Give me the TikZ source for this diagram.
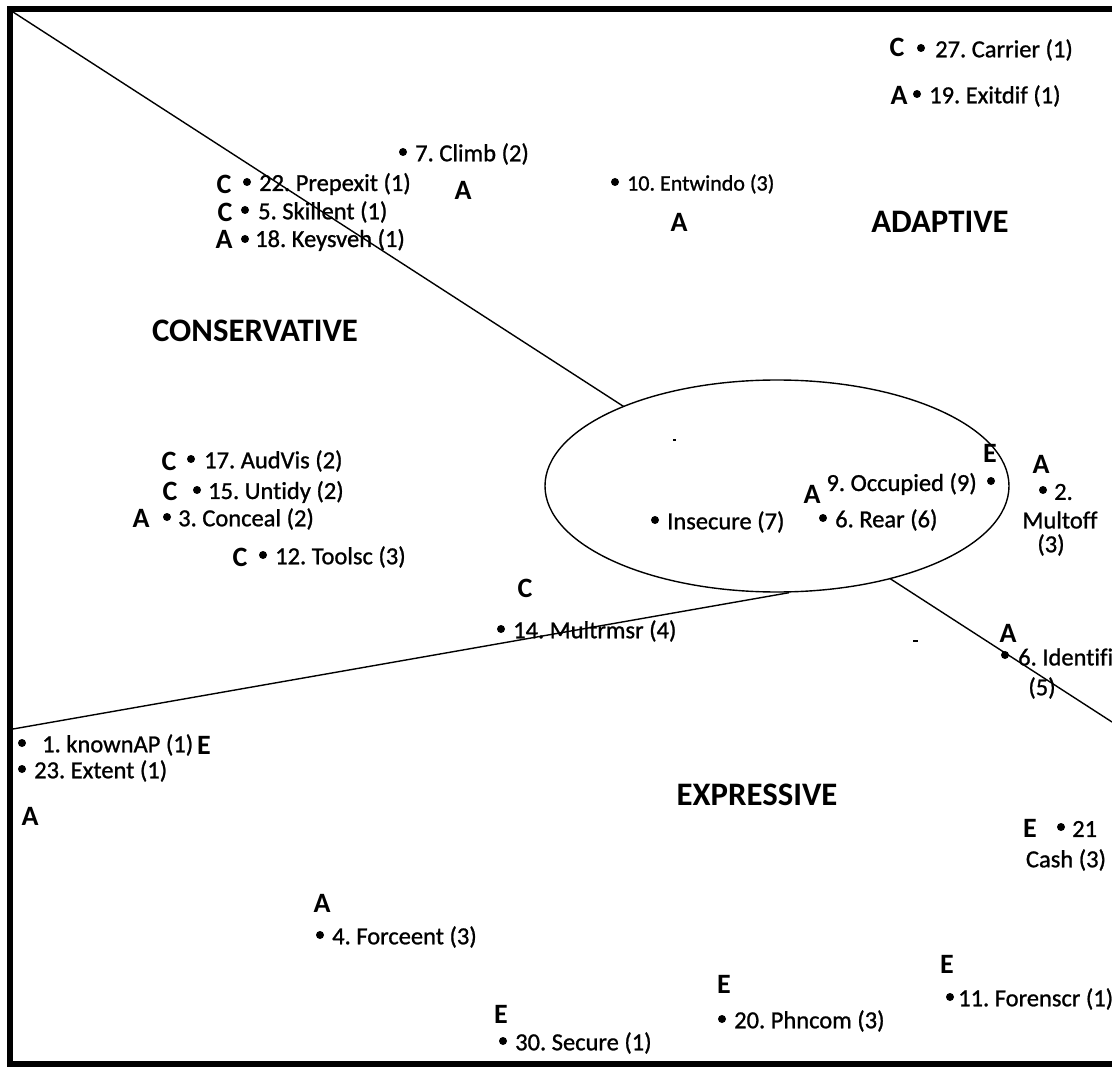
\documentclass[tikz,border=0pt]{standalone}
\usepackage{fontspec}
\setmainfont{Carlito}[Ligatures=NoCommon]
\newfontfamily\lblfont{Carlito}[Ligatures=NoCommon,FakeBold=1.0]
\usetikzlibrary{shapes.geometric}
\begin{document}
\frenchspacing
\begin{tikzpicture}[x=1pt,y=-1pt,
  pt/.style={circle,fill=black,inner sep=0pt,minimum size=8pt},
  lbl/.style={anchor=west,inner sep=0pt,font=\lblfont\fontsize{24.5}{28}\selectfont},
  lblc/.style={inner sep=0pt,font=\lblfont\fontsize{24.5}{28}\selectfont},
  cls/.style={inner sep=0pt,font=\bfseries\fontsize{28}{31}\selectfont},
  region/.style={inner sep=0pt,font=\bfseries\fontsize{32.8}{38}\selectfont},
  divider/.style={line width=1.4pt}]
\useasboundingbox (0,0) rectangle (1112,1067);
\clip (0,0) rectangle (1112,1067);

% dividing lines and the central ellipse
\coordinate (tl) at (13,12);
\coordinate (re) at (1112,722);
\coordinate (le) at (13,729);
\draw[divider] (tl) -- (re);
\node[ellipse,draw,line width=1.4pt,fill=white,minimum width=464pt,minimum height=212pt,inner sep=0pt] (core) at (777,486) {};
\draw[divider] (le) -- ([xshift=12pt]core.south);
\fill (673,439) rectangle (676,441);
\fill (913,640) rectangle (918,641.5);

% region titles
\node[region] (adaptive) at (940,222) {ADAPTIVE};
\node[region] (conservative) at (255,331) {CONSERVATIVE};
\node[region] (expressive) at (757,795) {EXPRESSIVE};

% adaptive region
\node[cls] (c27) at (897,47) {C};
\node[pt] (p27) at (921,48) {};
\node[lbl] (t27) at (935,50) {27. Carrier (1)};
\node[cls] (c19) at (899,95) {A};
\node[pt] (p19) at (917,94) {};
\node[lbl] (t19) at (929,96) {19. Exitdif (1)};
\node[pt] (p7) at (403,152) {};
\node[lbl] (t7) at (415,154) {7. Climb (2)};
\node[cls] (c7) at (463,190) {A};
\node[pt] (p10) at (615,182) {};
\node[lbl,font=\lblfont\fontsize{22}{26}\selectfont] (t10) at (627,184) {10. Entwindo (3)};
\node[cls] (c10) at (679,222) {A};

% conservative region
\node[cls] (c22) at (224,184) {C};
\node[pt] (p22) at (247,182) {};
\node[lbl] (t22) at (259,184) {22. Prepexit (1)};
\node[cls] (c5) at (225,212) {C};
\node[pt] (p5) at (245,210) {};
\node[lbl] (t5) at (258,212) {5. Skillent (1)};
\node[cls] (c18) at (224,239) {A};
\node[pt] (p18) at (245,239) {};
\node[lbl] (t18) at (255,240) {18. Keysveh (1)};
\node[cls] (c17) at (169,461) {C};
\node[pt] (p17) at (191,459) {};
\node[lbl] (t17) at (204,461) {17. AudVis (2)};
\node[cls] (c15) at (170,491) {C};
\node[pt] (p15) at (197,490) {};
\node[lbl] (t15) at (208,492) {15. Untidy (2)};
\node[cls] (c3) at (141,518) {A};
\node[pt] (p3) at (167,517) {};
\node[lbl] (t3) at (178,519) {3. Conceal (2)};
\node[cls] (c12) at (240,557) {C};
\node[pt] (p12) at (263,555) {};
\node[lbl] (t12) at (275,557) {12. Toolsc (3)};
\node[cls] (c14) at (525,588) {C};
\node[pt] (p14) at (501,629) {};
\node[lbl] (t14) at (513,631) {14. Multrmsr (4)};

% core cluster
\node[pt] (pins) at (655,520) {};
\node[lbl] (tins) at (667,522) {Insecure (7)};
\node[cls] (c6r) at (812,494) {A};
\node[pt] (p6r) at (823,518) {};
\node[lbl] (t6r) at (835,520) {6. Rear (6)};
\node[lbl,anchor=east] (t9) at (977,484) {9. Occupied (9)};
\node[pt] (p9) at (991,481) {};
\node[cls] (c9) at (990,453) {E};
\node[cls] (c2) at (1041,464) {A};
\node[pt] (p2) at (1043,490) {};
\node[lbl] (t2a) at (1054,492) {2.};
\node[lblc] (t2b) at (1060,520) {Multoff};
\node[lblc] (t2c) at (1051,545) {(3)};
\node[cls] (c6i) at (1008,633) {A};
\node[pt] (p6i) at (1005,655) {};
\node[lbl] (t6i) at (1018,657) {6. Identifi};
\node[lblc] (t6ib) at (1042,688) {(5)};

% expressive region
\node[pt] (p1) at (22,743) {};
\node[lbl] (t1) at (42,745) {1. knownAP (1)};
\node[cls] (c1) at (204,745) {E};
\node[pt] (p23) at (22,769) {};
\node[lbl] (t23) at (34,771) {23. Extent (1)};
\node[cls] (c23) at (30,816) {A};
\node[cls] (c21) at (1030,828) {E};
\node[pt] (p21) at (1061,827) {};
\node[lbl] (t21) at (1072,829) {21};
\node[lblc] (t21b) at (1066,860) {Cash (3)};
\node[cls] (c4) at (322,903) {A};
\node[pt] (p4) at (320,935) {};
\node[lbl] (t4) at (332,937) {4. Forceent (3)};
\node[cls] (c11) at (947,964) {E};
\node[pt] (p11) at (950,997) {};
\node[lbl] (t11) at (958,999) {11. Forenscr (1)};
\node[cls] (c20) at (724,984) {E};
\node[pt] (p20) at (722,1019) {};
\node[lbl] (t20) at (734,1021) {20. Phncom (3)};
\node[cls] (c30) at (501,1014) {E};
\node[pt] (p30) at (503,1041) {};
\node[lbl] (t30) at (515,1043) {30. Secure (1)};

% frame, open on the right
\draw[line width=6pt] (1112,9) -- (10,9) -- (10,1064) -- (1112,1064);
\end{tikzpicture}
\end{document}
